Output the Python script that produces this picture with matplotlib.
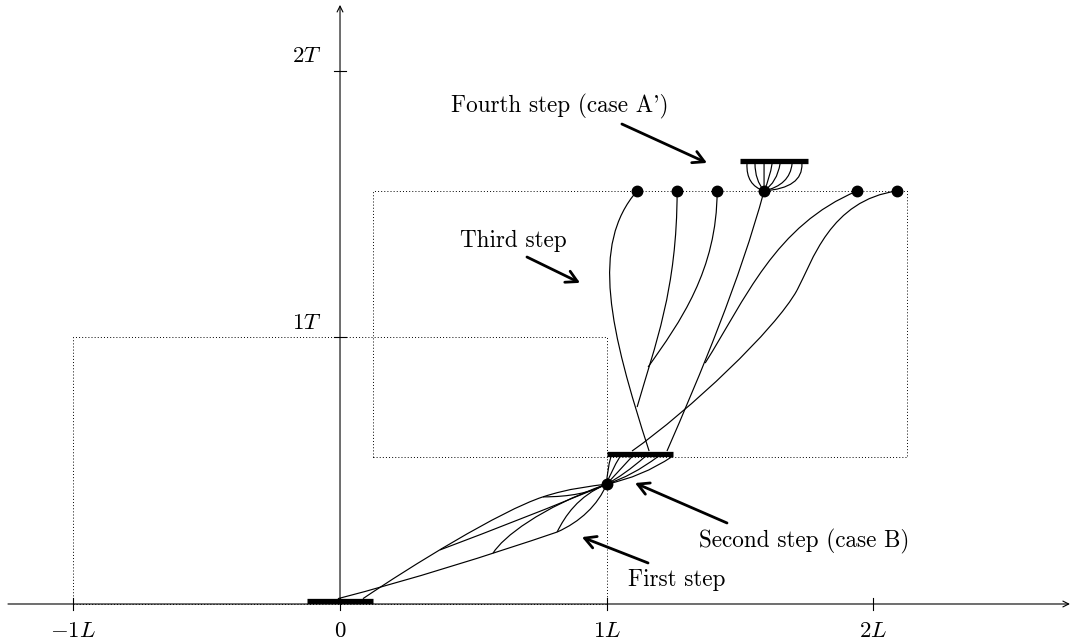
import matplotlib
matplotlib.use("Agg")
import matplotlib.pyplot as plt
from matplotlib.path import Path
from matplotlib.patches import PathPatch

plt.rcParams["mathtext.fontset"] = "cm"

# axis ticks and labels (units of L and T)
x_ticks = [-1, 0, 1, 2]
x_tick_labels = [r"$-1L$", r"$0$", r"$1L$", r"$2L$"]
y_ticks = [1, 2]
y_tick_labels = [r"$1T$", r"$2T$"]

# dotted domains: (x0, y0, x1, y1)
boxes = [(-1.0, 0.0, 1.0, 1.0), (0.125, 0.55, 2.125, 1.55)]

# thick segments: (x0, x1, y)
bars = [(-0.125, 0.125, 0.012), (1.0, 1.25, 0.563), (1.5, 1.755, 1.662)]

# nodes
dot_x = [1.0, 1.114, 1.264, 1.414, 1.59, 1.94, 2.09]
dot_y = [0.45, 1.55, 1.55, 1.55, 1.55, 1.55, 1.55]

# first step: cubic bezier control points
first_step = [
    [(-0.008, 0.02), (0.262, 0.090), (0.562, 0.184), (0.814, 0.270)],
    [(0.814, 0.270), (0.900, 0.308), (0.967, 0.371), (1.0, 0.45)],
    [(0.086, 0.02), (0.262, 0.139), (0.600, 0.349), (0.761, 0.402)],
    [(0.761, 0.402), (0.862, 0.435), (0.937, 0.441), (1.0, 0.45)],
    [(0.761, 0.402), (0.862, 0.402), (0.937, 0.417), (1.0, 0.45)],
    [(0.375, 0.203), (0.581, 0.281), (0.806, 0.368), (1.0, 0.45)],
    [(0.574, 0.191), (0.611, 0.251), (0.750, 0.360), (1.0, 0.45)],
    [(0.814, 0.270), (0.844, 0.330), (0.892, 0.405), (1.0, 0.45)],
]

# second step fan (quadratic): from node to lower edge of bar
fan2_start = (1.0, 0.45)
fan2_end_x = [1.016, 1.050, 1.095, 1.144, 1.192, 1.245]
fan2_end_y = 0.553
fan2_ctrl = [(1.001, 0.503), (1.016, 0.499), (1.039, 0.492),
             (1.065, 0.484), (1.095, 0.480), (1.132, 0.477)]

# third step: cubic bezier control points
third_step = [
    [(1.159, 0.574), (1.012, 1.028), (0.937, 1.347), (1.114, 1.55)],
    [(1.114, 0.739), (1.181, 0.972), (1.264, 1.178), (1.264, 1.55)],
    [(1.155, 0.889), (1.275, 1.058), (1.414, 1.253), (1.414, 1.55)],
    [(1.226, 0.574), (1.350, 0.859), (1.500, 1.216), (1.59, 1.55)],
    [(1.369, 0.904), (1.519, 1.141), (1.631, 1.422), (1.94, 1.55)],
    [(1.095, 0.574), (1.312, 0.728), (1.631, 1.028), (1.714, 1.178)],
    [(1.714, 1.178), (1.770, 1.283), (1.837, 1.516), (2.09, 1.55)],
]

# fourth step fan (quadratic)
fan4_start = (1.59, 1.55)
fan4_end_x = [1.526, 1.556, 1.59, 1.620, 1.650, 1.695, 1.732]
fan4_end_y = 1.652
fan4_ctrl = [(1.522, 1.572), (1.556, 1.591), (1.59, 1.602), (1.612, 1.599),
             (1.639, 1.583), (1.687, 1.572), (1.736, 1.561)]

# annotations: text, text position (baseline centre), arrow tail, arrow head
notes = [
    ("Fourth step (case A')", (0.825, 1.845), (1.057, 1.801), (1.376, 1.655)),
    ("Third step", (0.649, 1.338), (0.701, 1.302), (0.900, 1.205)),
    ("Second step (case B)", (1.740, 0.212), (1.451, 0.304), (1.106, 0.454)),
    ("First step", (1.264, 0.069), (1.155, 0.154), (0.907, 0.251)),
]

fig = plt.figure(figsize=(10.75, 6.42), dpi=100)
ax = fig.add_axes([0, 0, 1, 1])
ax.set_xlim(-1.2749, 2.7559)
ax.set_ylim(-0.1426, 2.2664)
ax.axis("off")

LW = 0.85


def bezier(pts):
    if len(pts) == 4:
        codes = [Path.MOVETO, Path.CURVE4, Path.CURVE4, Path.CURVE4]
    else:
        codes = [Path.MOVETO, Path.CURVE3, Path.CURVE3]
    ax.add_patch(PathPatch(Path(pts, codes), fc="none", ec="black", lw=LW))


# axes with arrows
ax.annotate("", xy=(2.737, 0), xytext=(-1.245, 0),
            arrowprops=dict(arrowstyle="->,head_length=0.3,head_width=0.15",
                            lw=0.8, shrinkA=0, shrinkB=0, mutation_scale=14))
ax.annotate("", xy=(0, 2.248), xytext=(0, 0),
            arrowprops=dict(arrowstyle="->,head_length=0.3,head_width=0.15",
                            lw=0.8, shrinkA=0, shrinkB=0, mutation_scale=14))
for x, lab in zip(x_ticks, x_tick_labels):
    ax.plot([x, x], [-0.0225, 0.0225], color="black", lw=0.8)
    ax.text(x, -0.124, lab, ha="center", va="baseline", fontsize=16.5)
for y, lab in zip(y_ticks, y_tick_labels):
    ax.plot([-0.024, 0.024], [y, y], color="black", lw=0.8)
    ax.text(-0.069, y + 0.032, lab, ha="right", va="baseline", fontsize=16.5)

# dotted boxes
for x0, y0, x1, y1 in boxes:
    ax.plot([x0, x1, x1, x0, x0], [y0, y0, y1, y1, y0], color="black",
            lw=0.7, linestyle=(0, (1, 2.2)))

# curves
for c in first_step:
    bezier(c)
for xe, c in zip(fan2_end_x, fan2_ctrl):
    bezier([fan2_start, c, (xe, fan2_end_y)])
for c in third_step:
    bezier(c)
for xe, c in zip(fan4_end_x, fan4_ctrl):
    bezier([fan4_start, c, (xe, fan4_end_y)])

# bars and nodes
for x0, x1, y in bars:
    ax.plot([x0, x1], [y, y], color="black", lw=3.8, solid_capstyle="butt")
ax.plot(dot_x, dot_y, "o", color="black", markersize=7.5, zorder=5)

# labels with arrows
for txt, tpos, tail, head in notes:
    ax.text(tpos[0], tpos[1], txt, ha="center", va="baseline",
            fontsize=16.7, family="cmr10")
    ax.annotate("", xy=head, xytext=tail,
                arrowprops=dict(arrowstyle="->,head_length=0.4,head_width=0.22",
                                lw=2.0, shrinkA=0, shrinkB=0, mutation_scale=20))

fig.savefig("out.png", dpi=100)
